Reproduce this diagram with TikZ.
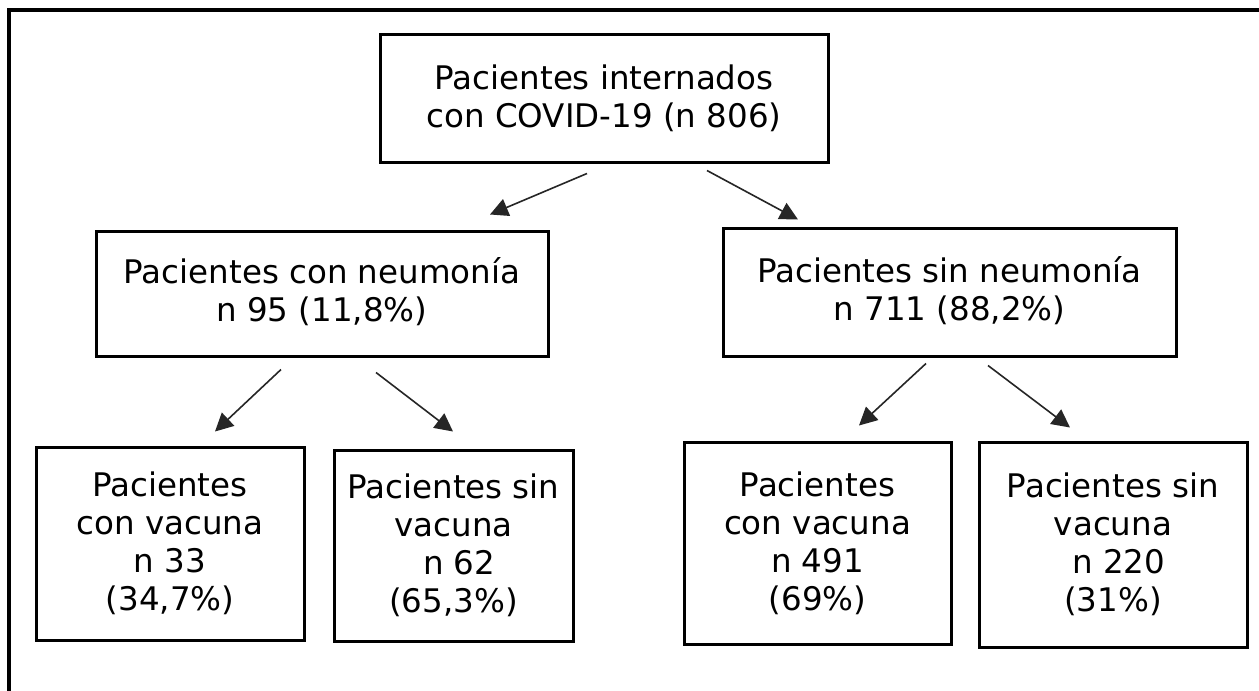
\documentclass[tikz,border=0pt]{standalone}
\usepackage{fontspec}
\setmainfont{DejaVu Sans}
\usetikzlibrary{arrows.meta}
\begin{document}
\begin{tikzpicture}[x=1pt,y=-1pt,
  boxstyle/.style={draw=black,line width=3pt,inner sep=0pt,align=center,
    font=\fontsize{32.5}{38}\selectfont},
  arr/.style={draw=black!85,line width=1.6pt,-{Triangle[length=18pt,width=18pt]}}]
\useasboundingbox (0,0) rectangle (1259,691);
\fill[white] (0,0) rectangle (1259,691);
\draw[line width=3.2pt] (9,691) -- (9,10) -- (1259,10);
\node[boxstyle,minimum width=448pt,minimum height=128pt] (top) at (604,98)
  {Pacientes internados\\con COVID-19 (n 806)};
\node[boxstyle,minimum width=452pt,minimum height=125pt] (L) at (322,293.5)
  {Pacientes con neumonía\\n 95 (11,8\%)\\[-30pt]\mbox{}};
\node[boxstyle,minimum width=453pt,minimum height=128pt] (R) at (949.5,292)
  {Pacientes sin neumonía\\n 711 (88,2\%)\\[-30pt]\mbox{}};
\node[boxstyle,minimum width=268pt,minimum height=193pt] (b1) at (170,543.5)
  {Pacientes\\con vacuna\\n 33\\(34,7\%)};
\node[boxstyle,minimum width=239pt,minimum height=191pt] (b2) at (453.5,545.5)
  {Pacientes sin\\vacuna\\\hspace*{0.35em}n 62\\(65,3\%)};
\node[boxstyle,minimum width=267pt,minimum height=202pt] (b3) at (817.5,543)
  {Pacientes\\con vacuna\\n 491\\(69\%)};
\node[boxstyle,minimum width=268pt,minimum height=205pt] (b4) at (1113,544.5)
  {Pacientes sin\\vacuna\\\hspace*{0.35em}n 220\\(31\%)};
\draw[arr] ([shift={(-17,10)}]top.south) -- ([shift={(168,-15)}]L.north);
\draw[arr] ([shift={(103,7)}]top.south) -- ([shift={(-151.5,-7)}]R.north);
\draw[arr] ([shift={(-41,12)}]L.south) -- ([shift={(45,-14)}]b1.north);
\draw[arr] ([shift={(54,15)}]L.south) -- ([shift={(-0.5,-17)}]b2.north);
\draw[arr] ([shift={(-23.5,6)}]R.south) -- ([shift={(41.5,-15)}]b3.north);
\draw[arr] ([shift={(38.5,8)}]R.south) -- ([shift={(-43,-13)}]b4.north);
\end{tikzpicture}
\end{document}
